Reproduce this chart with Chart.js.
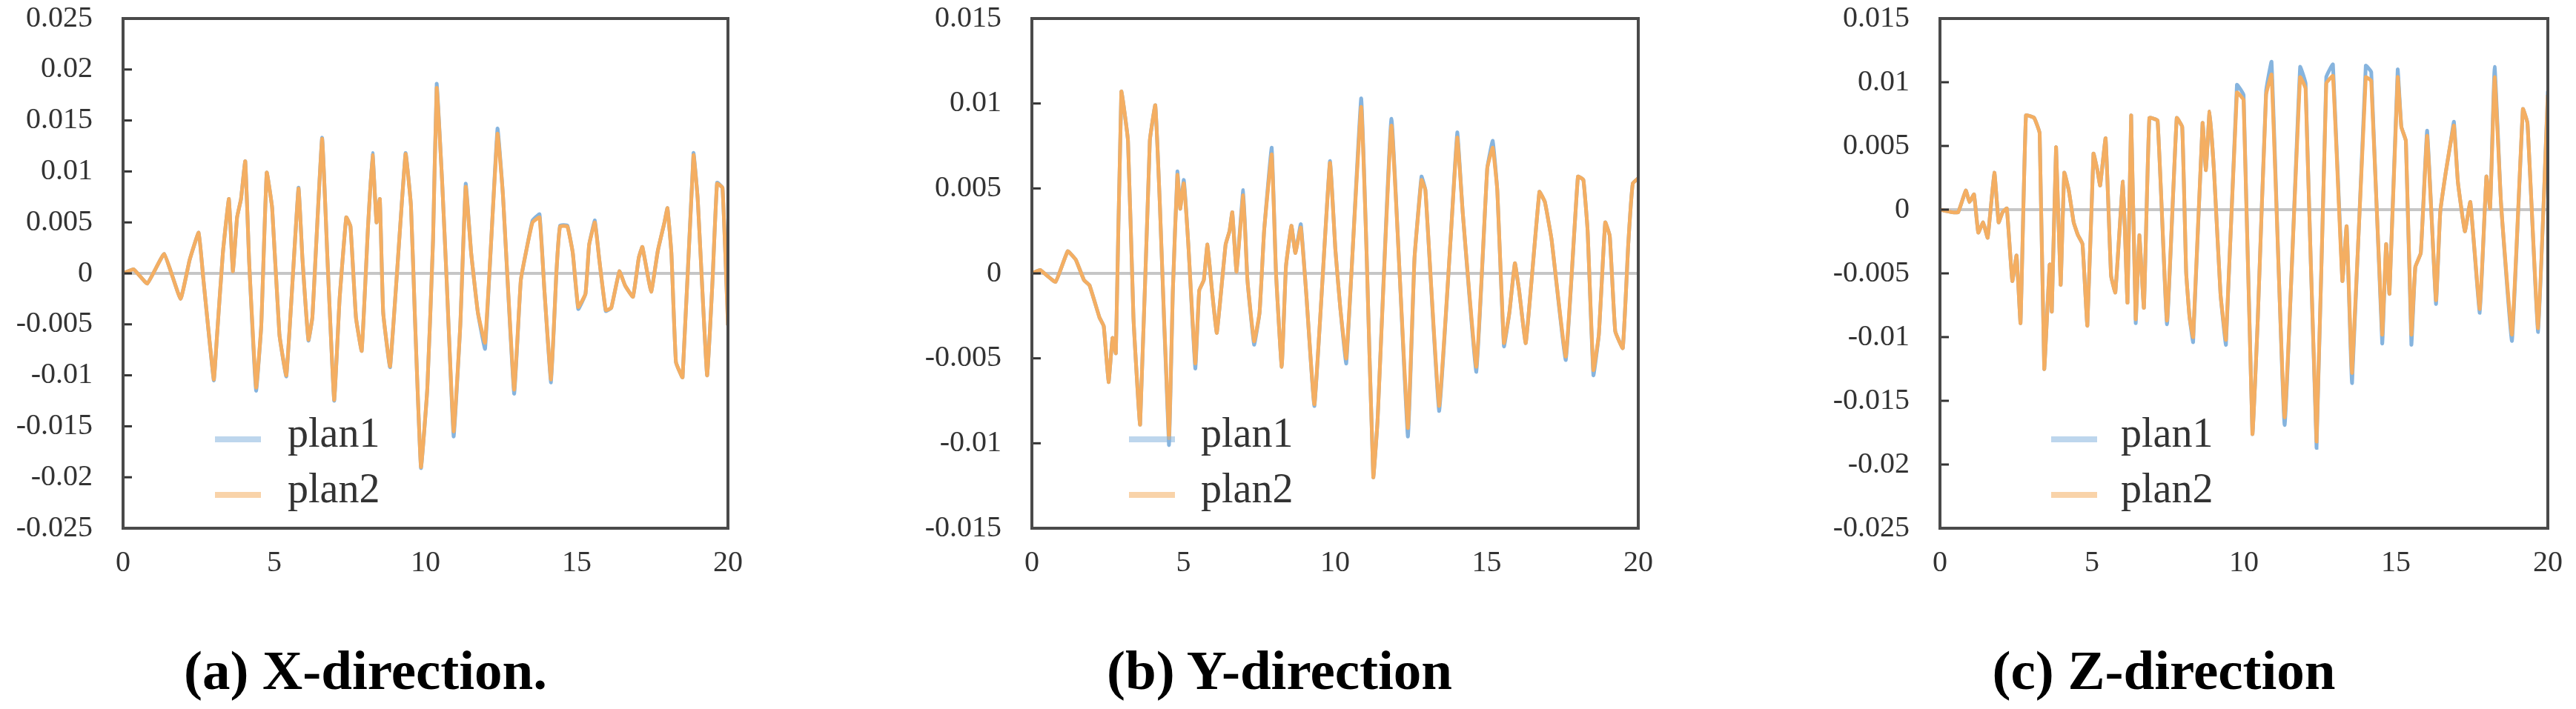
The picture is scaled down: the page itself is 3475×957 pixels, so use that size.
<!DOCTYPE html>
<html>
<head>
<meta charset="utf-8">
<script src="https://cdn.jsdelivr.net/npm/chart.js@4.4.1/dist/chart.umd.min.js"></script>
<style>
  html, body { margin: 0; padding: 0; background: #fff; overflow: hidden; }
  body { width: 3475px; height: 957px; position: relative; }
  canvas { position: absolute; top: 0; }
  .cap {
    position: absolute; top: 867px; width: 700px; text-align: center;
    font: bold 75px "Liberation Serif", serif; line-height: 75px;
    color: #000; white-space: nowrap;
  }
</style>
</head>
<body>
<canvas id="chartX" width="1012" height="820" style="left:0px"></canvas>
<canvas id="chartY" width="1014" height="820" style="left:1226px"></canvas>
<canvas id="chartZ" width="1016" height="820" style="left:2451px"></canvas>
<div class="cap" style="left:143px">(a) X-direction.</div>
<div class="cap" style="left:1376px">(b) Y-direction</div>
<div class="cap" style="left:2569px">(c) Z-direction</div>

<script>
// ---- data (time in s, response) ----
const seriesNames = ["plan1", "plan2"];
const xTicks = [0, 5, 10, 15, 20];

// (a) X-direction
const timeA = [0, 0.35, 0.8, 1.36, 1.9, 2.2, 2.5, 2.65, 3.0, 3.1, 3.3, 3.5, 3.63, 3.77, 3.9, 4.04, 4.17, 4.4, 4.57, 4.75,
  4.93, 5.17, 5.4, 5.8, 5.93, 6.13, 6.26, 6.58, 6.76, 6.98, 7.16, 7.38, 7.52, 7.7, 7.89, 8.1, 8.25, 8.38, 8.49, 8.6,
  8.83, 9.34, 9.52, 9.65, 9.85, 10.06, 10.25, 10.37, 10.55, 10.7, 10.93, 11.15, 11.33, 11.51, 11.73, 11.97, 12.38, 12.56, 12.93, 13.15,
  13.33, 13.54, 13.77, 13.93, 14.15, 14.33, 14.45, 14.69, 14.87, 15.05, 15.29, 15.41, 15.6, 15.74, 15.96, 16.14, 16.41, 16.6, 16.86, 17.05,
  17.17, 17.46, 17.68, 17.9, 18.0, 18.13, 18.28, 18.5, 18.86, 19.0, 19.31, 19.49, 19.64, 19.82, 20];
const planA1 = [0, 0.0004, -0.001, 0.0019, -0.0025, 0.0013, 0.004, -0.0004, -0.0105, -0.0064, 0.002, 0.0073, 0.0002, 0.0055, 0.0073, 0.011, 0.0011, -0.0115, -0.0051, 0.0099,
  0.0064, -0.006, -0.0101, 0.0084, 0.0015, -0.0066, -0.0043, 0.0133, 0.0013, -0.0125, -0.0025, 0.0055, 0.0046, -0.0043, -0.0076, 0.0046, 0.0118, 0.005, 0.0073, -0.0038,
  -0.0092, 0.0118, 0.0066, -0.0043, -0.0191, -0.0113, 0.0033, 0.0186, 0.009, -0.0007, -0.016, -0.0051, 0.0088, 0.002, -0.0038, -0.0074, 0.0142, 0.0077, -0.0118, -0.0007,
  0.0022, 0.0052, 0.0058, -0.0016, -0.0107, 0.0002, 0.0047, 0.0047, 0.002, -0.0035, -0.002, 0.0028, 0.0052, 0.0015, -0.0037, -0.0034, 0.0002, -0.0012, -0.0023, 0.0015,
  0.0026, -0.0018, 0.0022, 0.005, 0.0064, 0.002, -0.0087, -0.0102, 0.0118, 0.0073, -0.01, -0.0007, 0.0089, 0.0084, -0.0051];
const planA2 = [0, 0.0004, -0.001, 0.0019, -0.0025, 0.0013, 0.004, -0.0004, -0.0104, -0.0064, 0.002, 0.0073, 0.0002, 0.0055, 0.0073, 0.011, 0.0011, -0.0112, -0.0051, 0.0099,
  0.0064, -0.006, -0.01, 0.0083, 0.0015, -0.0065, -0.0043, 0.0132, 0.0013, -0.0124, -0.0025, 0.0055, 0.0046, -0.0043, -0.0076, 0.0046, 0.0116, 0.005, 0.0073, -0.0038,
  -0.0091, 0.0117, 0.0066, -0.0043, -0.019, -0.0113, 0.0033, 0.0182, 0.009, -0.0007, -0.0155, -0.0051, 0.0085, 0.002, -0.0038, -0.0068, 0.0137, 0.0077, -0.0114, -0.0007,
  0.0022, 0.005, 0.0055, -0.0016, -0.0104, 0.0002, 0.0046, 0.0046, 0.002, -0.0033, -0.002, 0.0028, 0.005, 0.0015, -0.0036, -0.0034, 0.0002, -0.0012, -0.0023, 0.0015,
  0.0026, -0.0018, 0.0022, 0.005, 0.0064, 0.002, -0.0087, -0.0102, 0.0116, 0.0073, -0.01, -0.0007, 0.0088, 0.0084, -0.0051];

// (b) Y-direction
const timeB = [0, 0.27, 0.78, 1.18, 1.45, 1.72, 1.9, 2.23, 2.37, 2.53, 2.66, 2.77, 2.95, 3.17, 3.35, 3.57, 3.89, 4.07, 4.22, 4.52,
  4.65, 4.8, 4.89, 5.01, 5.16, 5.39, 5.52, 5.67, 5.79, 5.94, 6.1, 6.39, 6.52, 6.61, 6.75, 6.97, 7.11, 7.33, 7.51, 7.66,
  7.91, 8.05, 8.24, 8.38, 8.56, 8.69, 8.87, 9.05, 9.32, 9.83, 10.01, 10.17, 10.37, 10.86, 11.04, 11.26, 11.4, 11.86, 12.4, 12.62,
  12.85, 12.98, 13.43, 13.81, 14.03, 14.21, 14.66, 15.02, 15.2, 15.35, 15.57, 15.75, 15.93, 16.07, 16.29, 16.74, 16.92, 17.14, 17.61, 18.01,
  18.19, 18.33, 18.52, 18.7, 18.91, 19.06, 19.24, 19.49, 19.67, 19.82, 20];
const planB1 = [0, 0.0002, -0.0005, 0.0013, 0.0008, -0.0004, -0.0007, -0.0026, -0.0031, -0.0064, -0.0038, -0.0047, 0.0107, 0.0078, -0.0026, -0.0089, 0.0078, 0.0099, 0.0041, -0.0101,
  -0.001, 0.006, 0.0038, 0.0055, 0.0017, -0.0056, -0.001, -0.0004, 0.0017, -0.001, -0.0035, 0.0017, 0.0025, 0.0036, 0.0001, 0.0049, -0.0004, -0.0042, -0.0023, 0.0025,
  0.0074, 0.0001, -0.0055, 0.0004, 0.0028, 0.0012, 0.0029, -0.0012, -0.0078, 0.0066, 0.0014, -0.002, -0.0053, 0.0103, 0.0012, -0.012, -0.0087, 0.0091, -0.0096, 0.0009,
  0.0057, 0.0049, -0.0081, 0.002, 0.0083, 0.0036, -0.0058, 0.0062, 0.0078, 0.0049, -0.0043, -0.0023, 0.0006, -0.001, -0.0041, 0.0048, 0.0042, 0.002, -0.0051, 0.0057,
  0.0055, 0.0025, -0.006, -0.0036, 0.003, 0.0022, -0.0034, -0.0044, 0.0017, 0.0053, 0.0056];
const planB2 = [0, 0.0002, -0.0005, 0.0013, 0.0008, -0.0004, -0.0007, -0.0026, -0.0031, -0.0064, -0.0038, -0.0047, 0.0107, 0.0078, -0.0026, -0.0089, 0.0078, 0.0099, 0.0041, -0.0097,
  -0.001, 0.0058, 0.0038, 0.0053, 0.0017, -0.0053, -0.001, -0.0004, 0.0017, -0.001, -0.0035, 0.0017, 0.0025, 0.0036, 0.0001, 0.0046, -0.0004, -0.004, -0.0023, 0.0025,
  0.007, 0.0001, -0.0055, 0.0004, 0.0028, 0.0012, 0.0027, -0.0012, -0.0077, 0.0065, 0.0014, -0.002, -0.005, 0.0098, 0.0012, -0.012, -0.0087, 0.0087, -0.0091, 0.0009,
  0.0055, 0.0049, -0.0078, 0.002, 0.008, 0.0036, -0.0055, 0.0062, 0.0074, 0.0049, -0.0041, -0.0023, 0.0006, -0.001, -0.0041, 0.0048, 0.0042, 0.002, -0.0049, 0.0057,
  0.0055, 0.0025, -0.0057, -0.0036, 0.003, 0.0022, -0.0034, -0.0044, 0.0017, 0.0053, 0.0056];

// (c) Z-direction
const timeC = [0, 0.4, 0.6, 0.85, 0.97, 1.12, 1.26, 1.42, 1.57, 1.79, 1.93, 2.06, 2.2, 2.38, 2.52, 2.65, 2.83, 3.1, 3.28, 3.43,
  3.61, 3.68, 3.82, 3.97, 4.09, 4.24, 4.4, 4.54, 4.69, 4.85, 5.05, 5.18, 5.27, 5.45, 5.63, 5.77, 6.02, 6.17, 6.29, 6.44,
  6.56, 6.71, 6.89, 7.16, 7.47, 7.79, 7.97, 8.1, 8.21, 8.33, 8.64, 8.75, 8.87, 9.02, 9.23, 9.41, 9.77, 9.99, 10.28, 10.46,
  10.73, 10.91, 11.34, 11.85, 12.03, 12.39, 12.71, 12.93, 13.24, 13.38, 13.56, 14.01, 14.19, 14.55, 14.68, 14.79, 15.06, 15.18, 15.33, 15.51,
  15.64, 15.82, 16.03, 16.32, 16.46, 16.64, 16.79, 16.91, 17.04, 17.27, 17.45, 17.76, 17.98, 18.1, 18.25, 18.46, 18.82, 19.18, 19.33, 19.68, 20];
const planC1 = [0, -0.0002, -0.0002, 0.0015, 0.0006, 0.0012, -0.0018, -0.001, -0.0022, 0.0029, -0.001, -0.0002, 0.0001, -0.0056, -0.0036, -0.0089, 0.0074, 0.0072, 0.006, -0.0125,
  -0.0043, -0.008, 0.0049, -0.0059, 0.0029, 0.0015, -0.001, -0.002, -0.0027, -0.0091, 0.0044, 0.0031, 0.0019, 0.0056, -0.0052, -0.0065, 0.0022, -0.0073, 0.0074, -0.0089,
  -0.002, -0.0077, 0.0072, 0.007, -0.009, 0.0072, 0.0065, -0.0049, -0.0084, -0.0104, 0.0068, 0.0031, 0.0077, 0.0029, -0.0066, -0.0106, 0.0098, 0.009, -0.0176, -0.0084,
  0.0093, 0.0116, -0.0169, 0.0112, 0.0099, -0.0187, 0.0104, 0.0114, -0.0056, -0.0013, -0.0136, 0.0113, 0.0108, -0.0105, -0.0027, -0.0066, 0.011, 0.0065, 0.0054, -0.0106,
  -0.0045, -0.0034, 0.0062, -0.0074, -0.0002, 0.0029, 0.0051, 0.0069, 0.0022, -0.0017, 0.0006, -0.0081, 0.0026, 0.0001, 0.0112, 0.0005, -0.0103, 0.0079, 0.0068, -0.0096, 0.0093];
const planC2 = [0, -0.0002, -0.0002, 0.0015, 0.0006, 0.0012, -0.0018, -0.001, -0.0022, 0.0029, -0.001, -0.0002, 0.0001, -0.0056, -0.0036, -0.0089, 0.0074, 0.0072, 0.006, -0.0125,
  -0.0043, -0.008, 0.0049, -0.0059, 0.0029, 0.0015, -0.001, -0.002, -0.0027, -0.0091, 0.0044, 0.0031, 0.0019, 0.0056, -0.0052, -0.0065, 0.0022, -0.0073, 0.0074, -0.0086,
  -0.002, -0.0077, 0.0072, 0.007, -0.0087, 0.0072, 0.0065, -0.0049, -0.0084, -0.01, 0.0068, 0.0031, 0.0077, 0.0029, -0.0066, -0.0102, 0.0092, 0.0086, -0.0176, -0.0084,
  0.009, 0.0106, -0.0163, 0.0104, 0.0095, -0.0182, 0.0099, 0.0105, -0.0056, -0.0013, -0.0128, 0.0104, 0.0101, -0.0098, -0.0027, -0.0066, 0.0104, 0.0065, 0.0054, -0.0098,
  -0.0045, -0.0034, 0.0058, -0.0071, -0.0002, 0.0029, 0.0051, 0.0066, 0.0022, -0.0017, 0.0006, -0.0078, 0.0026, 0.0001, 0.0104, 0.0005, -0.0098, 0.0079, 0.0068, -0.0093, 0.009];

const rangeA = [-0.025, 0.025];
const rangeB = [-0.015, 0.015];
const rangeC = [-0.025, 0.015];

const BLUE = "#86b4de";
const ORANGE = "#f4ae62";
const tickFont = { family: "'Liberation Serif', serif", size: 40 };

// box frame, inner tick marks and legend drawn inside the plot
const framePlugin = {
  id: "frame",
  afterDraw(chart, args, opts) {
    const { ctx, chartArea: a, scales } = chart;
    const y = scales.y;
    ctx.save();
    ctx.strokeStyle = "#333";
    ctx.lineWidth = 3;
    for (const t of y.ticks) {
      const py = y.getPixelForValue(t.value);
      ctx.beginPath();
      ctx.moveTo(a.left, py);
      ctx.lineTo(a.left + 12, py);
      ctx.stroke();
    }
    ctx.strokeStyle = "#4a4a4a";
    ctx.lineWidth = 4;
    ctx.strokeRect(a.left, a.top, a.right - a.left, a.bottom - a.top);

    const rows = [593, 668];
    chart.data.datasets.forEach((ds, i) => {
      const ly = rows[i];
      ctx.globalAlpha = 0.55;
      ctx.strokeStyle = ds.borderColor;
      ctx.lineWidth = 8;
      ctx.beginPath();
      ctx.moveTo(a.left + opts.lineX, ly);
      ctx.lineTo(a.left + opts.lineX + 62, ly);
      ctx.stroke();
      ctx.globalAlpha = 1;
      ctx.fillStyle = "#333";
      ctx.font = "56px 'Liberation Serif', serif";
      ctx.textBaseline = "alphabetic";
      ctx.fillText(ds.label, a.left + opts.textX, ly + 10);
    });
    ctx.restore();
  }
};

function pts(t, v) {
  return t.map((x, i) => ({ x: x, y: v[i] }));
}

function makeChart(id, time, p1, p2, range, lineX, textX) {
  const line = { borderWidth: 5, pointRadius: 0, tension: 0.1 };
  return new Chart(document.getElementById(id), {
    type: "line",
    data: {
      datasets: [
        { ...line, label: seriesNames[0], data: pts(time, p1), borderColor: BLUE, order: 1 },
        { ...line, label: seriesNames[1], data: pts(time, p2), borderColor: ORANGE, order: 0 }
      ]
    },
    options: {
      responsive: false,
      animation: false,
      layout: { padding: { top: 25, right: 30, left: 0, bottom: 0 } },
      plugins: {
        legend: { display: false },
        tooltip: { enabled: false },
        frame: { lineX: lineX, textX: textX }
      },
      scales: {
        x: {
          type: "linear",
          min: xTicks[0],
          max: xTicks[xTicks.length - 1],
          afterBuildTicks: s => { s.ticks = xTicks.map(v => ({ value: v })); },
          afterFit: s => { s.height = 107; s.paddingLeft = 0; s.paddingRight = 0; },
          grid: { display: false, drawTicks: false },
          border: { display: false },
          ticks: { font: tickFont, color: "#333", padding: 23, maxRotation: 0 }
        },
        y: {
          min: range[0],
          max: range[1],
          afterFit: s => { s.width = 166; s.paddingTop = 0; s.paddingBottom = 0; },
          grid: {
            drawTicks: false,
            lineWidth: 4,
            color: c => (c.tick && Math.abs(c.tick.value) < 1e-9 ? "#c6c6c6" : "rgba(0,0,0,0)")
          },
          border: { display: false },
          ticks: {
            stepSize: 0.005,
            font: tickFont,
            color: "#333",
            padding: 41,
            callback: v => String(parseFloat(v.toFixed(3)))
          }
        }
      }
    },
    plugins: [framePlugin]
  });
}

makeChart("chartX", timeA, planA1, planA2, rangeA, 124, 222);
makeChart("chartY", timeB, planB1, planB2, rangeB, 131, 228);
makeChart("chartZ", timeC, planC1, planC2, rangeC, 150, 244);
</script>
</body>
</html>
